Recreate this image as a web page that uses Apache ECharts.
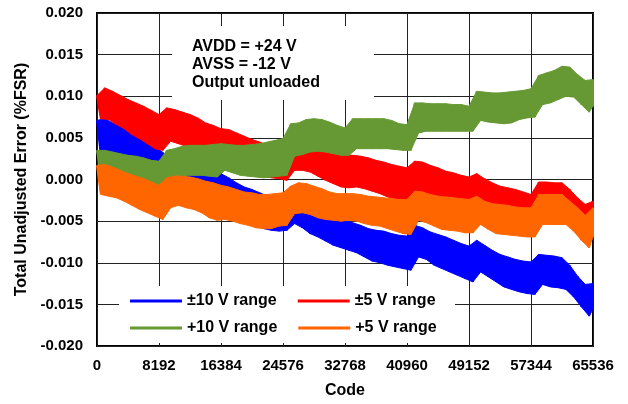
<!DOCTYPE html>
<html>
<head>
<meta charset="utf-8">
<script src="https://cdn.jsdelivr.net/npm/echarts@6/dist/echarts.min.js"></script>
<style>
html,body{margin:0;padding:0;background:#fff;}
#chart{width:628px;height:404px;}
</style>
</head>
<body>
<div id="chart"></div>
<script>
// x axis tick labels (codes)
const xTicks = [0, 8192, 16384, 24576, 32768, 40960, 49152, 57344, 65536];
// each tooth spans 1024 codes; hi = upper envelope at k*1024, lo = lower envelope at k*1024+512
const TOOTH = 1024;
const seriesNames = ['±10 V range', '±5 V range', '+10 V range', '+5 V range'];

const blueHi = [0.0071,0.0073,0.0068,0.0064,0.0058,0.0053,0.0047,0.0041,0.0036,
 0.0029,0.0023,0.0016,0.0011,0.0009,0.0007,0.0005,0.0007,
 0.0002,-0.0004,-0.0009,-0.0012,-0.0016,-0.0020,-0.0022,-0.0022,
 -0.0016,-0.0020,-0.0027,-0.0031,-0.0036,-0.0041,-0.0046,-0.0049,
 -0.0052,-0.0055,-0.0059,-0.0061,-0.0062,-0.0065,-0.0067,-0.0068,
 -0.0055,-0.0058,-0.0063,-0.0066,-0.0069,-0.0073,-0.0077,-0.0080,
 -0.0073,-0.0079,-0.0085,-0.0090,-0.0093,-0.0096,-0.0098,-0.0099,
 -0.0090,-0.0091,-0.0092,-0.0094,-0.0103,-0.0116,-0.0126,-0.0125];
const blueLo = [0.0029,0.0028,0.0024,0.0020,0.0014,0.0012,0.0011,0.0008,0.0004,
 -0.0004,-0.0010,-0.0016,-0.0022,-0.0027,-0.0029,-0.0031,-0.0031,
 -0.0036,-0.0043,-0.0050,-0.0055,-0.0059,-0.0061,-0.0062,-0.0061,
 -0.0053,-0.0058,-0.0065,-0.0069,-0.0074,-0.0079,-0.0082,-0.0085,
 -0.0088,-0.0093,-0.0098,-0.0100,-0.0103,-0.0105,-0.0107,-0.0109,
 -0.0093,-0.0096,-0.0103,-0.0107,-0.0111,-0.0115,-0.0119,-0.0123,
 -0.0111,-0.0117,-0.0123,-0.0129,-0.0132,-0.0135,-0.0137,-0.0138,
 -0.0126,-0.0129,-0.0130,-0.0132,-0.0141,-0.0153,-0.0164,-0.0156];

const redHi = [0.0101,0.0110,0.0106,0.0101,0.0096,0.0092,0.0088,0.0083,0.0078,
 0.0086,0.0084,0.0081,0.0078,0.0074,0.0068,0.0065,0.0061,
 0.0060,0.0056,0.0052,0.0048,0.0045,0.0041,0.0039,0.0036,
 0.0040,0.0041,0.0041,0.0039,0.0036,0.0034,0.0031,0.0030,
 0.0029,0.0028,0.0026,0.0023,0.0021,0.0018,0.0016,0.0014,
 0.0022,0.0021,0.0017,0.0014,0.0010,0.0008,0.0005,0.0003,
 0.0007,0.0001,-0.0004,-0.0008,-0.0010,-0.0012,-0.0015,-0.0018,
 -0.0003,-0.0003,-0.0004,-0.0004,-0.0012,-0.0022,-0.0030,-0.0026];
const redLo = [0.0073,0.0072,0.0066,0.0061,0.0054,0.0049,0.0043,0.0037,0.0035,
 0.0046,0.0043,0.0040,0.0035,0.0033,0.0029,0.0028,0.0028,
 0.0024,0.0020,0.0014,0.0008,0.0004,0.0002,0.0001,-0.0001,
 0.0011,0.0011,0.0009,0.0004,-0.0001,-0.0005,-0.0009,-0.0010,
 -0.0009,-0.0011,-0.0014,-0.0017,-0.0021,-0.0023,-0.0027,-0.0029,
 -0.0017,-0.0020,-0.0023,-0.0027,-0.0031,-0.0034,-0.0036,-0.0037,
 -0.0031,-0.0035,-0.0041,-0.0046,-0.0048,-0.0052,-0.0054,-0.0058,
 -0.0042,-0.0043,-0.0044,-0.0046,-0.0052,-0.0055,-0.0060,-0.0053];

const greenHi = [0.0035,0.0035,0.0033,0.0031,0.0029,0.0028,0.0026,0.0023,0.0022,
 0.0035,0.0037,0.0040,0.0041,0.0041,0.0041,0.0042,0.0043,
 0.0042,0.0041,0.0041,0.0042,0.0043,0.0045,0.0047,0.0049,
 0.0067,0.0068,0.0072,0.0073,0.0072,0.0069,0.0065,0.0062,
 0.0073,0.0073,0.0073,0.0073,0.0073,0.0071,0.0067,0.0066,
 0.0092,0.0092,0.0091,0.0091,0.0091,0.0090,0.0090,0.0088,
 0.0106,0.0105,0.0104,0.0104,0.0105,0.0106,0.0107,0.0109,
 0.0125,0.0128,0.0131,0.0136,0.0135,0.0126,0.0119,0.0120];
const greenLo = [0.0005,0.0004,0.0003,0.0001,-0.0002,-0.0003,-0.0005,-0.0009,-0.0012,
 0.0002,0.0004,0.0005,0.0005,0.0005,0.0004,0.0003,0.0011,
 0.0008,0.0005,0.0004,0.0003,0.0002,0.0003,0.0004,0.0005,
 0.0028,0.0030,0.0033,0.0034,0.0033,0.0031,0.0029,0.0029,
 0.0037,0.0037,0.0037,0.0037,0.0037,0.0036,0.0035,0.0035,
 0.0056,0.0058,0.0058,0.0058,0.0058,0.0058,0.0058,0.0058,
 0.0071,0.0069,0.0068,0.0067,0.0068,0.0072,0.0074,0.0075,
 0.0090,0.0092,0.0096,0.0100,0.0099,0.0090,0.0081,0.0088];

const orangeHi = [0.0017,0.0018,0.0015,0.0011,0.0007,0.0004,0.0001,-0.0003,-0.0007,
 0.0002,0.0004,0.0004,0.0003,0.0001,-0.0002,-0.0004,-0.0007,
 -0.0009,-0.0012,-0.0015,-0.0016,-0.0018,-0.0018,-0.0017,-0.0016,
 -0.0008,-0.0004,-0.0005,-0.0008,-0.0011,-0.0015,-0.0017,-0.0017,
 -0.0017,-0.0018,-0.0020,-0.0021,-0.0022,-0.0023,-0.0024,-0.0024,
 -0.0014,-0.0015,-0.0018,-0.0020,-0.0021,-0.0022,-0.0023,-0.0024,
 -0.0020,-0.0026,-0.0029,-0.0030,-0.0031,-0.0033,-0.0034,-0.0034,
 -0.0018,-0.0018,-0.0018,-0.0018,-0.0026,-0.0034,-0.0043,-0.0034];
const orangeLo = [-0.0018,-0.0020,-0.0022,-0.0026,-0.0031,-0.0036,-0.0040,-0.0044,-0.0048,
 -0.0034,-0.0031,-0.0034,-0.0036,-0.0040,-0.0046,-0.0049,-0.0048,
 -0.0050,-0.0053,-0.0055,-0.0058,-0.0059,-0.0059,-0.0056,-0.0055,
 -0.0041,-0.0040,-0.0042,-0.0046,-0.0048,-0.0049,-0.0050,-0.0049,
 -0.0050,-0.0053,-0.0055,-0.0056,-0.0059,-0.0062,-0.0065,-0.0066,
 -0.0049,-0.0052,-0.0056,-0.0060,-0.0061,-0.0062,-0.0064,-0.0064,
 -0.0054,-0.0060,-0.0065,-0.0066,-0.0067,-0.0068,-0.0069,-0.0069,
 -0.0054,-0.0054,-0.0054,-0.0054,-0.0062,-0.0073,-0.0082,-0.0069];

const noteLines = ['AVDD = +24 V', 'AVSS = -12 V', 'Output unloaded'];

const FONT = '"Liberation Sans", Arial, sans-serif';
const colors = ['#0000ff', '#ff0000', '#669933', '#ff6600'];
const hiLo = [[blueHi, blueLo], [redHi, redLo], [greenHi, greenLo], [orangeHi, orangeLo]];
const X_MAX = xTicks[xTicks.length - 1];

function bandSeries(i) {
  const hi = hiLo[i][0], lo = hiLo[i][1], color = colors[i];
  return {
    name: seriesNames[i], type: 'custom',
    data: hi.map((h, k) => [k * TOOTH, h, lo[k]]),
    encode: {x: 0, y: [1, 2]},
    itemStyle: {color: color},
    z: 2 + i * 0.1,
    renderItem: function (params, api) {
      if (params.dataIndex !== 0) return null;
      const top = [], bottom = [], saw = [];
      for (let k = 0; k < hi.length; k++) {
        const xh = k * TOOTH;
        const xl = Math.min(k * TOOTH + TOOTH / 2, X_MAX);
        top.push(api.coord([xh, hi[k]]));
        bottom.push(api.coord([xl, lo[k]]));
        saw.push(api.coord([xh, hi[k]]));
        saw.push(api.coord([xl, lo[k]]));
      }
      const pts = top.concat(bottom.slice().reverse());
      return {
        type: 'group',
        children: [
          {type: 'polygon', shape: {points: pts}, style: {fill: color, stroke: color, lineWidth: 1}},
          {type: 'polyline', shape: {points: saw}, style: {fill: null, stroke: color, lineWidth: 2, lineJoin: 'bevel'}}
        ]
      };
    }
  };
}

const chart = echarts.init(document.getElementById('chart'), null, {renderer: 'canvas'});
chart.setOption({
  animation: false,
  grid: {left: 97, right: 35, top: 13, bottom: 54, show: true, borderColor: '#000', borderWidth: 2, backgroundColor: 'transparent'},
  xAxis: {
    type: 'value', min: xTicks[0], max: X_MAX, interval: 8192,
    name: 'Code', nameLocation: 'middle', nameGap: 37,
    nameTextStyle: {fontFamily: FONT, fontWeight: 'bold', fontSize: 16, color: '#000'},
    axisLine: {show: false}, axisTick: {show: false},
    axisLabel: {fontFamily: FONT, fontWeight: 'bold', fontSize: 15, color: '#000', margin: 12, formatter: v => String(v)},
    splitLine: {show: true, lineStyle: {color: '#222', width: 1}}
  },
  yAxis: {
    type: 'value', min: -0.02, max: 0.02, interval: 0.005,
    name: 'Total Unadjusted Error (%FSR)', nameLocation: 'middle', nameGap: 65,
    nameTextStyle: {fontFamily: FONT, fontWeight: 'bold', fontSize: 16, color: '#000'},
    axisLine: {show: false}, axisTick: {show: false},
    axisLabel: {fontFamily: FONT, fontWeight: 'bold', fontSize: 15, color: '#000', margin: 14, formatter: v => v.toFixed(3)},
    splitLine: {show: true, lineStyle: {color: '#222', width: 1}}
  },
  legend: [
    {data: [seriesNames[0], seriesNames[1]], left: 130, top: 293, padding: 0, itemGap: 21, itemWidth: 52, itemHeight: 3, icon: 'rect', selectedMode: false,
     textStyle: {fontFamily: FONT, fontWeight: 'bold', fontSize: 16, color: '#000'}},
    {data: [seriesNames[2], seriesNames[3]], left: 130, top: 320, padding: 0, itemGap: 21, itemWidth: 52, itemHeight: 3, icon: 'rect', selectedMode: false,
     textStyle: {fontFamily: FONT, fontWeight: 'bold', fontSize: 16, color: '#000'}}
  ],
  graphic: [
    {type: 'rect', z: 1, shape: {x: 119, y: 286, width: 336, height: 57}, style: {fill: '#fff'}},
    {type: 'rect', z: 1, shape: {x: 172, y: 26, width: 202, height: 74}, style: {fill: '#fff'}},
    ...noteLines.map((t, i) => ({type: 'text', z: 5, style: {text: t, x: 192, y: 47 + i * 18, fontFamily: FONT, fontWeight: 'bold', fontSize: 16, fill: '#000', verticalAlign: 'middle'}}))
  ],
  series: [0, 1, 2, 3].map(bandSeries)
});
</script>
</body>
</html>
